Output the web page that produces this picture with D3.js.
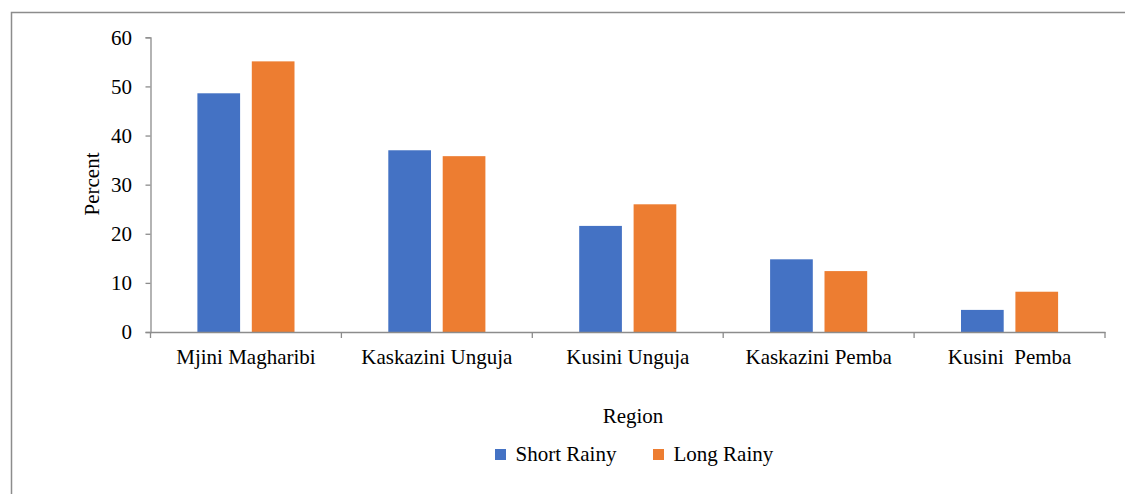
<!DOCTYPE html>
<html><head><meta charset="utf-8">
<script src="https://cdn.jsdelivr.net/npm/d3@7"></script>
<style>body{margin:0;background:#fff}svg{display:block}</style>
</head><body>
<script>
const categories = ["Mjini Magharibi","Kaskazini Unguja","Kusini Unguja","Kaskazini Pemba","Kusini  Pemba"];
const seriesNames = ["Short Rainy","Long Rainy"];
const shortRainy = [48.6, 37.0, 21.6, 14.8, 4.5];
const longRainy = [55.1, 35.8, 26.0, 12.4, 8.2];
const yTicks = [0,10,20,30,40,50,60];
const colors = ["#4472C4","#ED7D31"];

(function(){
const FONT="'Liberation Serif', 'Times New Roman', Tinos, 'DejaVu Serif', serif";
const FS="21px";
const W=1125,H=494;
const svg=d3.select("body").append("svg").attr("width",W).attr("height",H);
svg.append("rect").attr("x",11.5).attr("y",12.5).attr("width",W).attr("height",H).attr("fill","none").attr("stroke","#8c8c8c").attr("stroke-width",1.5);

const pLeft=150.5,pRight=1105,pTop=37.3,pBottom=332;
const x=d3.scaleBand().domain(categories).range([pLeft,pRight]).paddingInner(0).paddingOuter(0);
const y=d3.scaleLinear().domain([0,60]).range([pBottom,pTop]);
const bw=x.bandwidth();
const barW=42.7, gap=11.7;
const xs=d3.scaleBand().domain(seriesNames).range([(bw-(2*barW+gap))/2,(bw+(2*barW+gap))/2]).paddingInner(gap/(barW+gap)).paddingOuter(0);

const data=categories.map((c,i)=>({c,vals:[shortRainy[i],longRainy[i]]}));
const g=svg.append("g");
data.forEach(d=>{
  d.vals.forEach((v,j)=>{
    g.append("rect").attr("x",x(d.c)+xs(seriesNames[j])).attr("y",y(v)).attr("width",xs.bandwidth()).attr("height",y(0)-y(v)).attr("fill",colors[j]);
  });
});

const ya=svg.append("g").attr("transform",`translate(${pLeft},0)`).call(d3.axisLeft(y).tickValues(yTicks).tickSize(5).tickPadding(13.5));
ya.attr("font-family",null).attr("font-size",null);
ya.select(".domain").attr("stroke","#8c8c8c").attr("stroke-width",1.3);
ya.selectAll(".tick line").attr("stroke","#8c8c8c").attr("stroke-width",1.3);
ya.selectAll(".tick text").style("font-size",FS).style("font-family",FONT).attr("fill","#000");

const xa=svg.append("g").attr("transform",`translate(0,${pBottom})`).call(d3.axisBottom(x).tickSize(0).tickPadding(17));
xa.attr("font-family",null).attr("font-size",null);
xa.select(".domain").attr("stroke","#8c8c8c").attr("stroke-width",1.3);
xa.selectAll(".tick text").style("font-size",FS).style("font-family",FONT).attr("fill","#000").style("white-space","pre");
const bounds=categories.map(c=>x(c)).concat([pRight]);
svg.append("g").selectAll("line").data(bounds).join("line").attr("x1",d=>d).attr("x2",d=>d).attr("y1",pBottom).attr("y2",pBottom+6).attr("stroke","#8c8c8c").attr("stroke-width",1.3);

svg.append("text").attr("transform",`translate(99,184) rotate(-90)`).attr("text-anchor","middle").style("font-size",FS).style("font-family",FONT).text("Percent");
svg.append("text").attr("x",633).attr("y",423).attr("text-anchor","middle").style("font-size",FS).style("font-family",FONT).text("Region");

const legX=[495,653];
seriesNames.forEach((s,j)=>{
  svg.append("rect").attr("x",legX[j]).attr("y",449).attr("width",11).attr("height",11).attr("fill",colors[j]);
  svg.append("text").attr("x",legX[j]+20.5).attr("y",461).style("font-size",FS).style("font-family",FONT).text(s);
});
})();
</script>
</body></html>
